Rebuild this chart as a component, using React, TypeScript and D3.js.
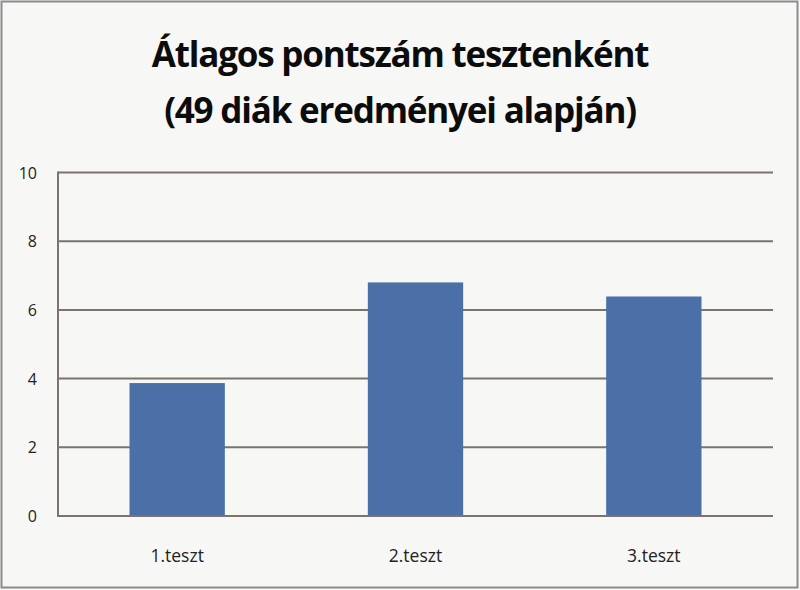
import React from "react";
import * as d3 from "d3";

const titleLines = ["Átlagos pontszám tesztenként", "(49 diák eredményei alapján)"];
const categories = ["1.teszt", "2.teszt", "3.teszt"];
const values = [3.87, 6.8, 6.39];
const yTicks = [0, 2, 4, 6, 8, 10];

export default function App() {
  const W = 800, H = 590;
  const left = 58, right = 773, top = 172.5, bottom = 516;
  const x = d3.scaleBand<string>().domain(categories).range([left, right]).paddingInner(0.6).paddingOuter(0.3);
  const y = d3.scaleLinear().domain([0, 10]).range([bottom, top]);
  const grid = "#7b736c";
  const font = "'Open Sans', 'Noto Sans', sans-serif";
  return (
    <svg width={W} height={H} style={{ position: "absolute", left: 0, top: 0, background: "#f7f7f6" }}>
      <rect x={1.5} y={1.5} width={W - 4} height={H - 4} fill="#f7f7f6" stroke="#8c8c8c" strokeWidth={2} />
      {titleLines.map((t, i) => (
        <text key={i} x={400} y={67 + i * 56} textAnchor="middle" fontFamily={font} fontWeight={700} fontSize={35} fill="#0c0c0c" letterSpacing={-1.2}>
          {t}
        </text>
      ))}
      {yTicks.map((t) => (
        <g key={t}>
          {t > 0 && <line x1={left} x2={right} y1={y(t)} y2={y(t)} stroke={grid} strokeWidth={2} />}
          <text x={37} y={y(t) + 6} textAnchor="end" fontFamily={font} fontSize={16} fill="#222">
            {t}
          </text>
        </g>
      ))}
      {categories.map((c, i) => (
        <rect key={c} x={x(c)} y={y(values[i])} width={x.bandwidth()} height={bottom - y(values[i])} fill="#4b70a8" />
      ))}
      <line x1={left} x2={left} y1={top - 1} y2={bottom + 1} stroke={grid} strokeWidth={2} />
      <line x1={left - 1} x2={right} y1={bottom} y2={bottom} stroke={grid} strokeWidth={2} />
      {categories.map((c) => (
        <text key={c} x={(x(c) as number) + x.bandwidth() / 2} y={562} textAnchor="middle" fontFamily={font} fontSize={17.5} fill="#222">
          {c}
        </text>
      ))}
    </svg>
  );
}
